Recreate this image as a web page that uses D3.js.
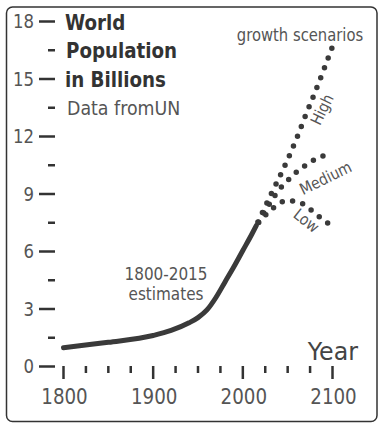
<!doctype html>
<html>
<head>
<meta charset="UTF-8">
<title>World Population</title>
<script src="https://cdn.jsdelivr.net/npm/d3@7"></script>
<style>
  body { margin: 0; background: #fff; }
  svg { display: block; font-family: "DejaVu Sans", sans-serif; }
</style>
</head>
<body>
<script>
// estimates 1800-2015, billions
var estYears = [1800, 1850, 1900, 1920, 1940, 1950, 1960, 1970, 1980, 1990, 2000, 2010, 2015];
var estimates = [0.98, 1.26, 1.62, 1.88, 2.28, 2.55, 2.95, 3.6, 4.4, 5.2, 6.05, 6.9, 7.35];

// UN scenarios
var projYears = [2015, 2020, 2030, 2040, 2050, 2060, 2070, 2080, 2090, 2100];
var high   = [7.35, 7.85, 8.85, 9.8, 10.8, 11.9, 13.1, 14.25, 15.45, 16.7];
var medium = [7.35, 7.75, 8.5, 9.2, 9.7, 10.15, 10.5, 10.8, 11.0, 11.2];
var low    = [7.35, 7.65, 8.1, 8.5, 8.65, 8.6, 8.4, 8.0, 7.65, 7.3];

var yMajor = [0, 3, 6, 9, 12, 15, 18];
var yMinor = [1.5, 4.5, 7.5, 10.5, 13.5, 16.5];
var xMajor = [1800, 1900, 2000, 2100];
var xMinor = [1825, 1850, 1875, 1925, 1950, 1975, 2025, 2050, 2075];

var width = 387, height = 425;

var svg = d3.select("body").append("svg")
  .attr("width", width)
  .attr("height", height);

svg.append("rect")
  .attr("x", 6.5).attr("y", 7)
  .attr("width", 370.5).attr("height", 414.5)
  .attr("rx", 6)
  .attr("fill", "none")
  .attr("stroke", "#333")
  .attr("stroke-width", 1.5);

var x = d3.scaleLinear().domain([1800, 2100]).range([63.5, 332.5]);
var y = d3.scaleLinear().domain([0, 18]).range([366.5, 21.5]);

// narrow text helper (text in the picture is squeezed sideways)
function label(tx, ty, str, opts) {
  opts = opts || {};
  var sq = opts.squeeze || 0.87;
  var g = svg.append("g")
    .attr("transform", "translate(" + tx + "," + ty + ") rotate(" + (opts.rotate || 0) + ") scale(" + sq + ",1)");
  return g.append("text")
    .attr("text-anchor", opts.anchor || "start")
    .attr("font-size", opts.size || 16)
    .attr("font-weight", opts.weight || "normal")
    .attr("fill", opts.color || "#555")
    .text(str);
}

// y ticks
svg.selectAll(".ymaj").data(yMajor).enter().append("line")
  .attr("x1", 39).attr("x2", 55)
  .attr("y1", function(d) { return y(d); })
  .attr("y2", function(d) { return y(d); })
  .attr("stroke", "#333").attr("stroke-width", 2.5);
svg.selectAll(".ymin").data(yMinor).enter().append("line")
  .attr("x1", 48).attr("x2", 55)
  .attr("y1", function(d) { return y(d); })
  .attr("y2", function(d) { return y(d); })
  .attr("stroke", "#333").attr("stroke-width", 2.5);
yMajor.forEach(function(d) {
  label(34, y(d) + 6.8, d3.format("d")(d), {anchor: "end", size: 19});
});

// x ticks
svg.selectAll(".xmaj").data(xMajor).enter().append("line")
  .attr("x1", function(d) { return x(d); })
  .attr("x2", function(d) { return x(d); })
  .attr("y1", 366).attr("y2", 379)
  .attr("stroke", "#333").attr("stroke-width", 2.5);
svg.selectAll(".xmin").data(xMinor).enter().append("line")
  .attr("x1", function(d) { return x(d); })
  .attr("x2", function(d) { return x(d); })
  .attr("y1", 366).attr("y2", 373)
  .attr("stroke", "#333").attr("stroke-width", 2.5);
xMajor.forEach(function(d) {
  label(x(d) + 1, 404, String(d), {anchor: "middle", size: 21});
});

// estimates line
var line = d3.line()
  .x(function(d) { return x(d[0]); })
  .y(function(d) { return y(d[1]); })
  .curve(d3.curveMonotoneX);

svg.append("path")
  .attr("d", line(d3.zip(estYears, estimates)))
  .attr("fill", "none")
  .attr("stroke", "#3a3a3a")
  .attr("stroke-width", 5)
  .attr("stroke-linecap", "round");

// dotted scenarios
[high, medium, low].forEach(function(s) {
  svg.append("path")
    .attr("d", line(d3.zip(projYears, s)))
    .attr("fill", "none")
    .attr("stroke", "#3a3a3a")
    .attr("stroke-width", 5.5)
    .attr("stroke-linecap", "round")
    .attr("stroke-dasharray", "0,10.5")
    .attr("stroke-dashoffset", -4);
});

// titles
label(65, 29.5, "World", {size: 21, weight: "bold", color: "#333"});
label(66, 58, "Population", {size: 21, weight: "bold", color: "#333"});
label(65, 87, "in Billions", {size: 21, weight: "bold", color: "#333"});
label(67, 115, "Data fromUN", {size: 20});

label(300, 41, "growth scenarios", {anchor: "middle", size: 17});
label(166, 280, "1800-2015", {anchor: "middle", size: 17.5});
label(166, 300, "estimates", {anchor: "middle", size: 17.5});
label(358, 360, "Year", {anchor: "end", size: 25, color: "#444", squeeze: 0.95});

label(327, 112, "High", {anchor: "middle", size: 16, rotate: -64});
label(328, 183, "Medium", {anchor: "middle", size: 16, rotate: -26});
label(303, 225, "Low", {anchor: "middle", size: 16, rotate: 38});
</script>
</body>
</html>
